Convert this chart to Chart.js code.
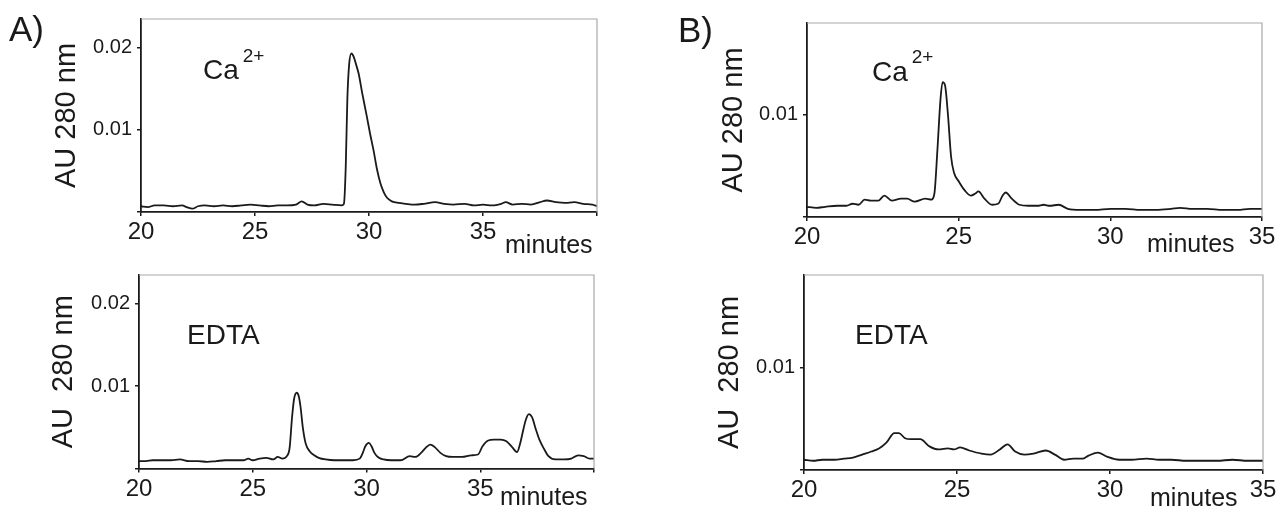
<!DOCTYPE html>
<html><head><meta charset="utf-8">
<script src="https://cdn.jsdelivr.net/npm/chart.js@4.4.1/dist/chart.umd.min.js"></script>
<style>
html,body{margin:0;padding:0;background:#fff;width:1281px;height:509px;overflow:hidden;}
canvas{position:absolute;left:0;top:0;}
.t{position:absolute;font-family:"Liberation Sans",Arial,sans-serif;color:#1a1a1a;line-height:1;white-space:pre;}
.sup{position:relative;font-size:19px;margin-left:4px;}
</style></head><body>
<canvas id="cA1" width="1281" height="509"></canvas>
<canvas id="cA2" width="1281" height="509"></canvas>
<canvas id="cB1" width="1281" height="509"></canvas>
<canvas id="cB2" width="1281" height="509"></canvas>

<div class="t" style="left:9px;top:11px;font-size:35px;">A)</div>
<div class="t" style="left:678px;top:12px;font-size:35px;">B)</div>
<div class="t" style="left:203px;top:56px;font-size:28px;">Ca<span class="sup" style="top:-17px;">2+</span></div>
<div class="t" style="left:872px;top:58px;font-size:28px;">Ca<span class="sup" style="top:-18px;">2+</span></div>
<div class="t" style="left:187px;top:321px;font-size:28px;">EDTA</div>
<div class="t" style="left:855px;top:321px;font-size:28px;">EDTA</div>
<div class="t" style="left:505px;top:232px;font-size:25px;">minutes</div>
<div class="t" style="left:500px;top:484px;font-size:25px;">minutes</div>
<div class="t" style="left:1147px;top:231px;font-size:25px;">minutes</div>
<div class="t" style="left:1150px;top:485px;font-size:25px;">minutes</div>

<script>
// ---------- data ----------
// A) Ca2+
const timesCaA = [20.0,20.3,20.6,21.0,21.4,21.8,22.0,22.25,22.5,22.8,23.2,23.6,24.0,24.4,24.8,25.2,25.6,26.0,26.4,26.8,27.05,27.3,27.6,28.0,28.4,28.8,28.9,28.98,29.05,29.13,29.23,29.33,29.45,29.55,29.7,29.9,30.05,30.2,30.35,30.5,30.65,30.8,31.0,31.3,31.6,32.0,32.4,32.9,33.3,33.7,34.2,34.6,35.0,35.4,35.8,36.0,36.3,36.7,37.1,37.5,37.8,38.2,38.6,39.0,39.4,39.8,40.0];
const auCaA = [0.0007,0.0006,0.0008,0.0008,0.0007,0.0008,0.0006,0.0004,0.0007,0.0008,0.0007,0.0008,0.0007,0.0008,0.0009,0.0008,0.0007,0.0008,0.0008,0.0009,0.0013,0.0009,0.0008,0.0010,0.0009,0.0008,0.0010,0.0055,0.0137,0.0180,0.0193,0.0189,0.0178,0.0168,0.0145,0.0117,0.0095,0.0075,0.0052,0.0035,0.0024,0.0017,0.0013,0.0011,0.0010,0.0009,0.0010,0.0012,0.0010,0.0009,0.0010,0.0008,0.0009,0.0008,0.0010,0.0012,0.0009,0.0010,0.0009,0.0012,0.0014,0.0012,0.0011,0.0012,0.0010,0.0009,0.0007];
// A) EDTA
const timesEdtaA = [20.0,20.3,20.6,21.0,21.4,21.8,22.2,22.6,23.0,23.4,23.8,24.2,24.6,24.8,25.0,25.3,25.6,25.9,26.1,26.3,26.5,26.62,26.73,26.82,26.93,27.02,27.1,27.2,27.33,27.5,27.7,27.9,28.2,28.6,29.0,29.4,29.7,29.85,29.95,30.1,30.22,30.35,30.5,30.75,31.1,31.5,31.9,32.15,32.4,32.6,32.8,33.0,33.25,33.5,33.8,34.2,34.6,34.9,35.1,35.35,35.6,35.9,36.15,36.4,36.62,36.75,36.9,37.0,37.14,37.28,37.45,37.6,37.8,38.0,38.3,38.7,39.0,39.3,39.55,39.8,40.0];
const auEdtaA = [0.0009,0.0009,0.0010,0.0010,0.0010,0.0011,0.0009,0.0009,0.0008,0.0009,0.0010,0.0010,0.0010,0.0012,0.0010,0.0012,0.0013,0.0011,0.0014,0.0012,0.0015,0.0025,0.0063,0.0085,0.0092,0.0088,0.0075,0.0050,0.0030,0.0021,0.0016,0.0013,0.0011,0.0010,0.0010,0.0010,0.0012,0.0020,0.0027,0.0031,0.0027,0.0019,0.0014,0.0011,0.0010,0.0010,0.0015,0.0014,0.0019,0.0025,0.0029,0.0026,0.0019,0.0015,0.0014,0.0014,0.0016,0.0017,0.0027,0.0034,0.0035,0.0035,0.0033,0.0026,0.0020,0.0030,0.0048,0.0059,0.0066,0.0062,0.0047,0.0035,0.0024,0.0015,0.0011,0.0011,0.0012,0.0016,0.0015,0.0012,0.0012];
// B) Ca2+
const timesCaB = [20.0,20.3,20.6,21.0,21.3,21.5,21.7,21.9,22.1,22.35,22.55,22.8,23.1,23.3,23.55,23.9,24.1,24.2,24.3,24.4,24.47,24.55,24.65,24.75,24.85,25.0,25.2,25.4,25.55,25.65,25.85,26.1,26.3,26.45,26.55,26.75,27.0,27.3,27.6,27.8,28.0,28.3,28.6,29.0,29.5,30.0,30.5,31.0,31.5,32.0,32.3,32.7,33.2,33.7,34.2,34.6,35.0];
const auCaB = [0.0010,0.0009,0.0010,0.0011,0.0011,0.0013,0.0012,0.0017,0.0016,0.0016,0.0021,0.0016,0.0018,0.0018,0.0015,0.0018,0.0017,0.0023,0.0066,0.0115,0.0132,0.0129,0.0099,0.0059,0.0043,0.0035,0.0026,0.0021,0.0023,0.0025,0.0018,0.0012,0.0013,0.0021,0.0024,0.0018,0.0012,0.0011,0.0011,0.0012,0.0011,0.0012,0.0008,0.0007,0.0007,0.0008,0.0008,0.0007,0.0007,0.0008,0.0009,0.0008,0.0008,0.0007,0.0007,0.0008,0.0008];
// B) EDTA
const timesEdtaB = [20.0,20.3,20.6,21.0,21.3,21.6,21.9,22.2,22.45,22.7,22.95,23.1,23.3,23.5,23.8,24.1,24.4,24.7,24.9,25.1,25.4,25.8,26.1,26.4,26.65,26.9,27.2,27.5,27.9,28.2,28.5,28.8,29.1,29.3,29.6,29.9,30.3,30.7,31.2,31.6,32.0,32.5,33.0,33.5,34.0,34.5,35.0];
const auEdtaB = [0.0010,0.0009,0.0010,0.0010,0.0011,0.0012,0.0015,0.0018,0.0021,0.0027,0.0036,0.0036,0.0031,0.0030,0.0030,0.0023,0.0020,0.0021,0.0020,0.0022,0.0019,0.0016,0.0015,0.0020,0.0025,0.0018,0.0015,0.0016,0.0019,0.0015,0.0010,0.0011,0.0011,0.0014,0.0017,0.0013,0.0010,0.0010,0.0011,0.0010,0.0010,0.0009,0.0009,0.0009,0.0010,0.0009,0.0009];

// ticks
const xTicksA = [20, 25, 30, 35, 40];
const xTickLabelsA = ['20', '25', '30', '35', ''];
const xTicksB = [20, 25, 30, 35];
const xTickLabelsB = ['20', '25', '30', '35'];
const yTicksA = [0, 0.01, 0.02];
const yTickLabelsA = ['', '0.01', '0.02'];
const yTicksB = [0, 0.01];
const yTickLabelsB = ['', '0.01'];

// ---------- drawing ----------
const FONT = '"Liberation Sans", Arial, sans-serif';
const INK = '#1a1a1a';

const frame = {
  id: 'frame',
  afterDatasetsDraw(chart) {
    const {ctx, chartArea: {left, top, right, bottom}} = chart;
    ctx.save();
    ctx.strokeStyle = '#a8a8a8';
    ctx.lineWidth = 1.2;
    ctx.beginPath();
    ctx.moveTo(left, top);
    ctx.lineTo(right, top);
    ctx.lineTo(right, bottom);
    ctx.stroke();
    ctx.restore();
  }
};

function panel(id, times, values, p) {
  const yW = 95, xH = 36;
  new Chart(document.getElementById(id), {
    type: 'line',
    data: {
      datasets: [{
        data: times.map((t, i) => ({x: t, y: values[i]})),
        borderColor: INK, borderWidth: 1.8, pointRadius: 0,
        cubicInterpolationMode: 'monotone', fill: false
      }]
    },
    options: {
      responsive: false, animation: false, events: [],
      layout: {padding: {left: p.left - yW, top: p.top, right: 1281 - p.right, bottom: 509 - p.bottom - xH}},
      plugins: {legend: {display: false}, tooltip: {enabled: false}},
      scales: {
        x: {
          type: 'linear', min: p.xMin, max: p.xMax,
          afterFit: s => { s.height = xH; },
          afterBuildTicks: s => { s.ticks = p.xTicks.map(v => ({value: v})); },
          ticks: {autoSkip: false, maxRotation: 0, padding: 2, color: INK,
                  font: {family: FONT, size: 24},
                  callback: (v, i) => p.xLabels[i]},
          grid: {display: true, drawOnChartArea: false, drawTicks: true, tickLength: 4, color: INK, lineWidth: 1.5},
          border: {display: true, color: INK, width: 1.8}
        },
        y: {
          type: 'linear', min: 0, max: p.yMax,
          afterFit: s => { s.width = yW; },
          afterBuildTicks: s => { s.ticks = p.yTicks.map(v => ({value: v})); },
          ticks: {autoSkip: false, padding: 5, color: INK,
                  font: {family: FONT, size: 20},
                  callback: (v, i) => p.yLabels[i]},
          grid: {display: true, drawOnChartArea: false, drawTicks: true, tickLength: 4, color: INK, lineWidth: 1.5},
          border: {display: true, color: INK, width: 1.8},
          title: {display: true, text: p.title, color: INK,
                  font: {family: FONT, size: 29, lineHeight: 1.2},
                  padding: {top: p.titlePad, bottom: 0}}
        }
      }
    },
    plugins: [frame]
  });
}

panel('cA1', timesCaA, auCaA, {left: 141, right: 597, top: 19, bottom: 212, xMin: 20, xMax: 40, yMax: 0.0235,
  xTicks: xTicksA, xLabels: xTickLabelsA, yTicks: yTicksA, yLabels: yTickLabelsA, title: 'AU 280 nm', titlePad: 4});
panel('cA2', timesEdtaA, auEdtaA, {left: 139, right: 594, top: 275, bottom: 468.5, xMin: 20, xMax: 40, yMax: 0.0235,
  xTicks: xTicksA, xLabels: xTickLabelsA, yTicks: yTicksA, yLabels: yTickLabelsA, title: 'AU  280 nm', titlePad: 3});
panel('cB1', timesCaB, auCaB, {left: 807, right: 1262, top: 23, bottom: 217, xMin: 20, xMax: 35, yMax: 0.019,
  xTicks: xTicksB, xLabels: xTickLabelsB, yTicks: yTicksB, yLabels: yTickLabelsB, title: 'AU 280 nm', titlePad: 5});
panel('cB2', timesEdtaB, auEdtaB, {left: 804, right: 1263, top: 275, bottom: 470, xMin: 20, xMax: 35, yMax: 0.019,
  xTicks: xTicksB, xLabels: xTickLabelsB, yTicks: yTicksB, yLabels: yTickLabelsB, title: 'AU  280 nm', titlePad: 4});
</script>
</body></html>
